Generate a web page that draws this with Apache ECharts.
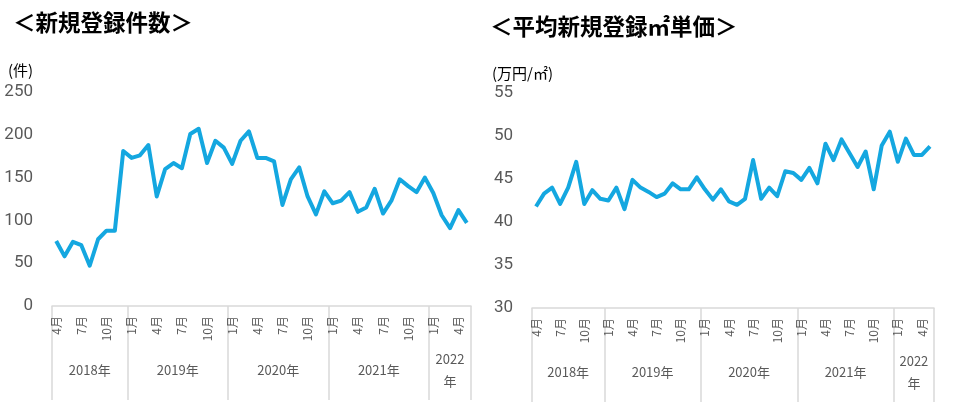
<!DOCTYPE html>
<html>
<head>
<meta charset="utf-8">
<script src="https://cdn.jsdelivr.net/npm/echarts@6/dist/echarts.min.js"></script>
<style>
html, body { margin: 0; padding: 0; background: #fff; }
#main { width: 969px; height: 416px; }
</style>
</head>
<body>
<div id="main"></div>
<script>
// 月次カテゴリ（2018年4月〜2022年5月）
var categories = [
    '2018/4', '2018/5', '2018/6', '2018/7', '2018/8', '2018/9', '2018/10', '2018/11', '2018/12',
    '2019/1', '2019/2', '2019/3', '2019/4', '2019/5', '2019/6', '2019/7', '2019/8', '2019/9', '2019/10', '2019/11', '2019/12',
    '2020/1', '2020/2', '2020/3', '2020/4', '2020/5', '2020/6', '2020/7', '2020/8', '2020/9', '2020/10', '2020/11', '2020/12',
    '2021/1', '2021/2', '2021/3', '2021/4', '2021/5', '2021/6', '2021/7', '2021/8', '2021/9', '2021/10', '2021/11', '2021/12',
    '2022/1', '2022/2', '2022/3', '2022/4', '2022/5'
];
var yearLabels = ['2018年', '2019年', '2020年', '2021年', '2022\n年'];
var monthTicks = [1, 4, 7, 10];

// 新規登録件数
var registrations = [
    76, 58, 75, 71, 47, 78, 88, 88, 181,
    173, 176, 188, 128, 160, 167, 161, 201, 207, 167, 193, 185,
    166, 193, 204, 173, 173, 169, 118, 148, 162, 128, 107, 134,
    120, 123, 133, 110, 115, 137, 108, 123, 148, 140, 133, 150,
    132, 106, 91, 112, 97
];

// 平均新規登録㎡単価（万円/㎡）
var unitPrice = [
    41.8, 43.3, 44.0, 42.1, 44.0, 47.0, 42.1, 43.7, 42.7,
    42.5, 44.0, 41.5, 44.9, 44.0, 43.5, 42.9, 43.3, 44.5, 43.8, 43.8, 45.2,
    43.8, 42.6, 43.8, 42.4, 42.0, 42.7, 47.2, 42.7, 44.0, 43.0, 45.9, 45.7,
    44.9, 46.3, 44.5, 49.1, 47.2, 49.6, 48.0, 46.4, 48.2, 43.8, 48.9, 50.5,
    47.0, 49.7, 47.8, 47.8, 48.8
];

var LINE = '#14a7e0';
var GRAY = '#595959';
var RULE = '#d9d9d9';
var JP = '"Noto Sans CJK JP", sans-serif';

function monthOf(c) { return +c.split('/')[1]; }
function yearOf(c) { return c.split('/')[0]; }

// 年ごとの中心位置（カテゴリ帯の単位）
var yearCenters = [];
(function () {
    var start = 0;
    for (var i = 1; i <= categories.length; i++) {
        if (i === categories.length || yearOf(categories[i]) !== yearOf(categories[start])) {
            yearCenters.push((start + i) / 2);
            start = i;
        }
    }
})();

function monthAxis(gi) {
    return {
        type: 'category',
        gridIndex: gi,
        position: 'bottom',
        data: categories,
        boundaryGap: true,
        axisLine: { show: true, lineStyle: { color: RULE, width: 1.5 } },
        axisTick: {
            show: true,
            length: 94,
            interval: function (idx, val) { return idx === 0 || monthOf(val) === 1; },
            lineStyle: { color: RULE, width: 1.5 }
        },
        axisLabel: {
            rotate: 90,
            margin: 10,
            interval: function (idx, val) { return monthTicks.indexOf(monthOf(val)) >= 0; },
            formatter: function (val) { return monthOf(val) + '月'; },
            color: GRAY,
            fontSize: 12,
            fontFamily: JP
        },
        splitLine: { show: false }
    };
}

function yearAxis(gi) {
    return {
        type: 'value',
        gridIndex: gi,
        position: 'bottom',
        min: 0,
        max: categories.length,
        interval: 0.5,
        axisLine: { show: false },
        axisTick: { show: false },
        splitLine: { show: false },
        axisLabel: {
            margin: 64,
            verticalAlign: 'middle',
            lineHeight: 22,
            color: GRAY,
            fontSize: 13,
            fontFamily: JP,
            formatter: function (v) {
                for (var i = 0; i < yearCenters.length; i++) {
                    if (Math.abs(yearCenters[i] - v) < 1e-6) return yearLabels[i];
                }
                return '';
            }
        }
    };
}

function valueAxis(gi, min, max, step) {
    return {
        type: 'value',
        gridIndex: gi,
        min: min,
        max: max,
        interval: step,
        axisLine: { show: false },
        axisTick: { show: false },
        splitLine: { show: false },
        axisLabel: {
            margin: 19,
            color: GRAY,
            fontSize: 17,
            fontFamily: 'Roboto, sans-serif'
        }
    };
}

var chart = echarts.init(document.getElementById('main'));

var option = {
    animation: false,
    backgroundColor: '#fff',
    title: [
        { text: '＜新規登録件数＞', left: 8, top: 6,
          textStyle: { fontSize: 22.5, fontWeight: 'bold', color: '#000', fontFamily: JP } },
        { text: '＜平均新規登録㎡単価＞', left: 485, top: 10,
          textStyle: { fontSize: 22.5, fontWeight: 'bold', color: '#000', fontFamily: JP } },
        { text: '(件)', left: 8, top: 63, padding: 0,
          textStyle: { fontSize: 15, fontWeight: 'normal', color: '#000', fontFamily: JP } },
        { text: '(万円/㎡)', left: 492, top: 66, padding: 0,
          textStyle: { fontSize: 15, fontWeight: 'normal', color: '#000', fontFamily: JP } }
    ],
    grid: [
        { left: 52, right: 498, top: 92, bottom: 110, outerBoundsMode: 'none' },
        { left: 532, right: 35, top: 93, bottom: 108, outerBoundsMode: 'none' }
    ],
    xAxis: [monthAxis(0), yearAxis(0), monthAxis(1), yearAxis(1)],
    yAxis: [valueAxis(0, 0, 250, 50), valueAxis(1, 30, 55, 5)],
    series: [
        {
            type: 'line', xAxisIndex: 0, yAxisIndex: 0,
            data: registrations, showSymbol: false,
            lineStyle: { color: LINE, width: 4, join: 'round' },
            itemStyle: { color: LINE }
        },
        {
            type: 'line', xAxisIndex: 2, yAxisIndex: 1,
            data: unitPrice, showSymbol: false,
            lineStyle: { color: LINE, width: 4, join: 'round' },
            itemStyle: { color: LINE }
        }
    ]
};

chart.setOption(option);
</script>
</body>
</html>
